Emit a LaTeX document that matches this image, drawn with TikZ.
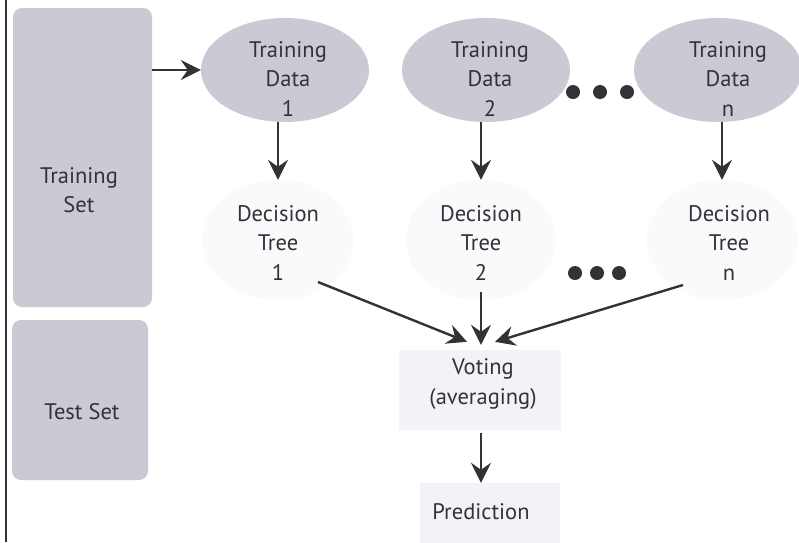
\documentclass[tikz,border=0pt]{standalone}
\usepackage{fontspec}
\setmainfont{PT Sans}
\usetikzlibrary{arrows.meta,shapes.geometric}
\definecolor{boxfill}{HTML}{CCC9D4}
\definecolor{faint}{HTML}{F3F2F6}
\definecolor{fainter}{HTML}{FAF9FB}
\definecolor{ink}{HTML}{333337}
\begin{document}
\begin{tikzpicture}[x=1pt,y=-1pt,
  txt/.style={font=\fontsize{22.5}{29.5}\selectfont, text=ink, align=center, inner sep=0pt},
  setbox/.style={fill=boxfill, rounded corners=9pt, inner sep=0pt},
  datael/.style={ellipse, fill=boxfill, minimum width=168pt, minimum height=104pt, inner sep=0pt},
  treeel/.style={ellipse, fill=fainter, minimum width=150pt, minimum height=120pt, inner sep=0pt},
  faintbox/.style={fill=faint, inner sep=0pt},
  arr/.style={draw=ink, line width=2.4pt, -{Stealth[length=20pt,width=20pt,inset=7pt]}},
  bigdot/.style={circle, fill=ink, minimum size=14pt, inner sep=0pt}]
\useasboundingbox (0,0) rectangle (799,542);
\fill[white] (0,0) rectangle (799,542);
\draw[ink, line width=1.6pt] (6,0) -- (6,542);

% left boxes
\node[setbox, minimum width=139pt, minimum height=299pt] (trainset) at (82.5,157.5) {};
\node[txt] (trainsetlbl) at (79,190) {Training\\Set};
\node[setbox, minimum width=136pt, minimum height=160pt] (testset) at (80,400) {};
\node[txt] (testsetlbl) at (82,412) {Test Set};

% training data ellipses
\node[datael] (d1) at (285,70) {};
\node[datael] (d2) at (486,70) {};
\node[datael] (dn) at (718,70) {};
\node[txt] (d1t) at (288,79) {Training\\Data\\1};
\node[txt] (d2t) at (490,79) {Training\\Data\\2};
\node[txt] (dnt) at (728,79) {Training\\Data\\n};

\node[bigdot] (p1) at (573,92) {};
\node[bigdot] (p2) at (600,92) {};
\node[bigdot] (p3) at (627,92) {};

% decision trees
\node[treeel] (t1) at (278,240) {};
\node[treeel] (t2) at (481,240) {};
\node[treeel] (tn) at (722,240) {};
\node[txt] (t1t) at (278,243) {Decision\\Tree\\1};
\node[txt] (t2t) at (481,243) {Decision\\Tree\\2};
\node[txt] (tnt) at (729,243) {Decision\\Tree\\n};

\node[bigdot] (q1) at (575,273) {};
\node[bigdot] (q2) at (597,273) {};
\node[bigdot] (q3) at (619,273) {};

% voting and prediction
\node[faintbox, minimum width=162pt, minimum height=80pt] (vote) at (480,390) {};
\node[txt] (votet) at (483,384) {Voting\\(averaging)};
\node[faintbox, minimum width=140pt, minimum height=60pt] (pred) at (490,513) {};
\node[txt] (predt) at (481,512) {Prediction};

% connectors
\draw[arr] (trainset.east |- d1) -- (d1.west);
\draw[arr] (d1.south -| t1) -- (t1.north);
\draw[arr] (d2.south -| t2) -- (t2.north);
\draw[arr] (dn.south -| tn) -- (tn.north);
\draw[arr] ([shift={(40,42)}]t1.center) -- ([shift={(-13,-8)}]vote.north);
\draw[arr] ([shift={(0,52)}]t2.center) -- ([shift={(1,-5)}]vote.north);
\draw[arr] ([shift={(-39,45)}]tn.center) -- ([shift={(15,-8)}]vote.north);
\draw[arr] ([yshift=-3pt]vote.south -| predt) -- (pred.north -| predt);
\end{tikzpicture}
\end{document}
